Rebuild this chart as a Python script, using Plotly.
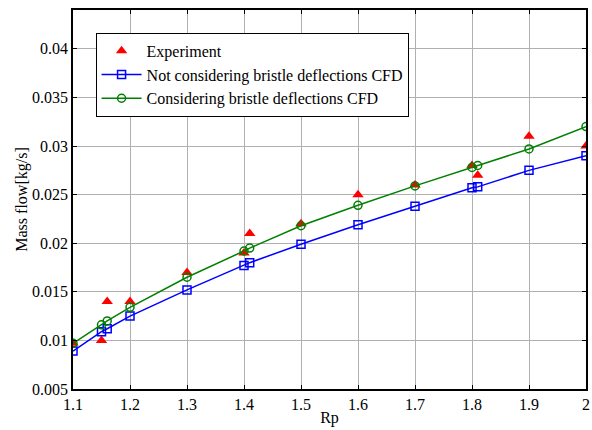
import plotly.graph_objects as go

rp = [1.1, 1.15, 1.16, 1.2, 1.3, 1.4, 1.41, 1.5, 1.6, 1.7, 1.8, 1.81, 1.9, 2.0]
experiment = [0.0097, 0.0100, 0.0140, 0.0140, 0.0170, 0.0190, 0.0210, 0.0220, 0.0250, 0.0260, 0.0280, 0.0270, 0.0310, 0.0300]
cfd_no_defl = [0.0089, 0.0109, 0.0112, 0.0125, 0.0152, 0.0177, 0.0180, 0.0199, 0.0219, 0.0238, 0.0257, 0.0258, 0.0275, 0.0290]
cfd_defl = [0.0097, 0.0116, 0.0120, 0.0134, 0.0165, 0.0192, 0.0195, 0.0218, 0.0239, 0.0259, 0.0278, 0.0280, 0.0297, 0.0320]

x_ticks = [1.1, 1.2, 1.3, 1.4, 1.5, 1.6, 1.7, 1.8, 1.9, 2.0]
x_tick_labels = ["1.1", "1.2", "1.3", "1.4", "1.5", "1.6", "1.7", "1.8", "1.9", "2"]
y_ticks = [0.005, 0.01, 0.015, 0.02, 0.025, 0.03, 0.035, 0.04]
y_tick_labels = ["0.005", "0.01", "0.015", "0.02", "0.025", "0.03", "0.035", "0.04"]

font = "Liberation Serif, Times New Roman, serif"

fig = go.Figure()
fig.add_trace(go.Scatter(x=rp, y=experiment, mode="markers", name="Experiment",
                         marker=dict(symbol="triangle-up", color="#ff0000", size=10)))
fig.add_trace(go.Scatter(x=rp, y=cfd_no_defl, mode="lines+markers",
                         name="Not considering bristle deflections CFD",
                         line=dict(color="#0000ff", width=1.5),
                         marker=dict(symbol="square-open", color="#0000ff", size=8, line=dict(width=1.5))))
fig.add_trace(go.Scatter(x=rp, y=cfd_defl, mode="lines+markers",
                         name="Considering bristle deflections CFD",
                         line=dict(color="#008000", width=1.5),
                         marker=dict(symbol="circle-open", color="#008000", size=8, line=dict(width=1.5))))

axis_common = dict(showline=True, linecolor="black", linewidth=1.5, mirror="ticks",
                   ticks="inside", ticklen=4, tickcolor="black",
                   showgrid=True, gridcolor="#b0b0b0", gridwidth=1, zeroline=False,
                   automargin=False, ticklabeloverflow="allow",
                   tickfont=dict(family=font, size=16, color="black"))

fig.update_layout(
    width=592, height=430,
    margin=dict(l=73, r=6, t=10, b=41, autoexpand=False),
    paper_bgcolor="white", plot_bgcolor="white",
    font=dict(family=font, size=16, color="black"),
    xaxis=dict(range=[1.1, 2.0], tickvals=x_ticks, ticktext=x_tick_labels,
               title=dict(text="Rp", font=dict(family=font, size=16), standoff=0), **axis_common),
    yaxis=dict(range=[0.005, 0.044], tickvals=y_ticks, ticktext=y_tick_labels,
               title=dict(text="Mass flow[kg/s]", font=dict(family=font, size=16), standoff=0), **axis_common),
    legend=dict(x=0.044, y=0.94, xanchor="left", yanchor="top",
                bgcolor="white", bordercolor="black", borderwidth=1,
                font=dict(family=font, size=16), tracegroupgap=0, itemwidth=40),
    showlegend=True,
)

fig.write_html("out.html", config={"displayModeBar": False},
               post_script="document.body.style.margin='0';")
